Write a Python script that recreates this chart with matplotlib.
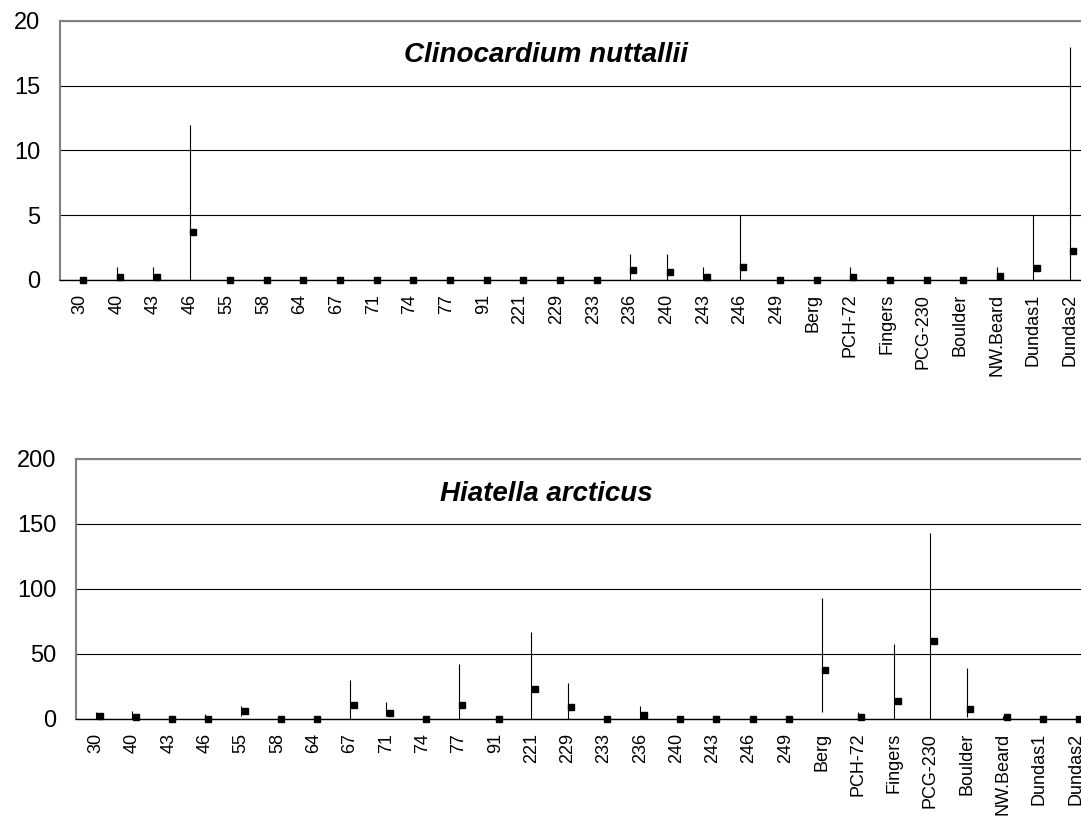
import matplotlib
matplotlib.use("Agg")
import matplotlib.pyplot as plt
from matplotlib import transforms
import numpy as np

plt.rcParams['font.family'] = ['Liberation Sans', 'DejaVu Sans']

sites = ["30", "40", "43", "46", "55", "58", "64", "67", "71", "74", "77", "91",
         "221", "229", "233", "236", "240", "243", "246", "249", "Berg", "PCH-72",
         "Fingers", "PCG-230", "Boulder", "NW.Beard", "Dundas1", "Dundas2"]

# Clinocardium nuttallii: min / max / mean per site
clino_min = [0, 0, 0, 0, 0, 0, 0, 0, 0, 0, 0, 0, 0, 0,
             0, 0, 0, 0, 0, 0, 0, 0, 0, 0, 0, 0, 0, 0]
clino_max = [0, 1, 1, 12, 0, 0, 0, 0, 0, 0, 0, 0, 0, 0,
             0, 2, 2, 1, 5, 0, 0, 1, 0, 0, 0, 1, 5, 18]
clino_mean = [0, 0.2, 0.2, 3.7, 0, 0, 0, 0, 0, 0, 0, 0, 0, 0,
              0, 0.8, 0.6, 0.2, 1.0, 0, 0, 0.2, 0, 0, 0, 0.3, 0.9, 2.2]

# Hiatella arcticus
hiat_min = [0, 0, 0, 0, 2, 0, 0, 0, 2, 0, 0, 0, 0, 0,
            0, 0, 0, 0, 0, 0, 5, 0, 0, 0, 1.5, 0, 0, 0]
hiat_max = [5, 6, 0, 4, 10, 0, 0, 30, 13, 0, 42, 0, 67, 28,
            0, 10, 0, 0, 0, 0, 93, 5, 58, 143, 39, 2, 0, 0]
hiat_mean = [2.5, 1.5, 0, 0, 6, 0, 0, 11, 4.6, 0, 11, 0, 23, 9,
             0, 3, 0, 0, 0, 0, 38, 1.5, 14, 60, 8, 1.5, 0, 0]

fig = plt.figure(figsize=(10.81, 8.17), dpi=100)


def panel(rect, low, high, mean, ymax, step, title, xleft, xright):
    ax = fig.add_axes(rect)
    x = np.arange(len(sites))
    ax.vlines(x, low, high, color="black", lw=0.8, zorder=3)
    # mean marker sits just right of the range line
    off = transforms.offset_copy(ax.transData, fig=fig, x=3.5, y=0, units="dots")
    ax.plot(x, mean, ls="none", marker="s", ms=5, color="black",
            transform=off, zorder=4, clip_on=False)

    ax.set_xlim(xleft, xright)
    ax.set_ylim(0, ymax)
    ax.set_yticks(np.arange(0, ymax + 1, step))
    ax.tick_params(axis="y", length=0, pad=14, labelsize=17)
    ax.set_xticks(x)
    ax.set_xticklabels(sites, rotation=90, fontsize=13)
    ax.tick_params(axis="x", length=0, pad=10)

    ax.set_axisbelow(True)
    ax.yaxis.grid(True, color="black", lw=0.8)
    ax.spines["right"].set_visible(False)
    ax.spines["left"].set_color("#808080")
    ax.spines["left"].set_linewidth(1.5)
    ax.spines["top"].set_color("#808080")
    ax.spines["top"].set_linewidth(1.5)
    ax.spines["bottom"].set_color("black")
    ax.spines["bottom"].set_linewidth(1.0)

    tr = transforms.blended_transform_factory(fig.transFigure, ax.transAxes)
    ax.text(0.505, 0.84, title, transform=tr, ha="center", va="baseline",
            fontsize=20, fontweight="bold", fontstyle="italic")
    return ax


panel([0.0555, 0.6573, 0.9445, 0.317], clino_min, clino_max, clino_mean,
      20, 5, "Clinocardium nuttallii", -0.545, 27.3)
panel([0.0703, 0.12, 0.9297, 0.3182], hiat_min, hiat_max, hiat_mean,
      200, 50, "Hiatella arcticus", -0.554, 27.15)

fig.savefig("out.png", dpi=100)
